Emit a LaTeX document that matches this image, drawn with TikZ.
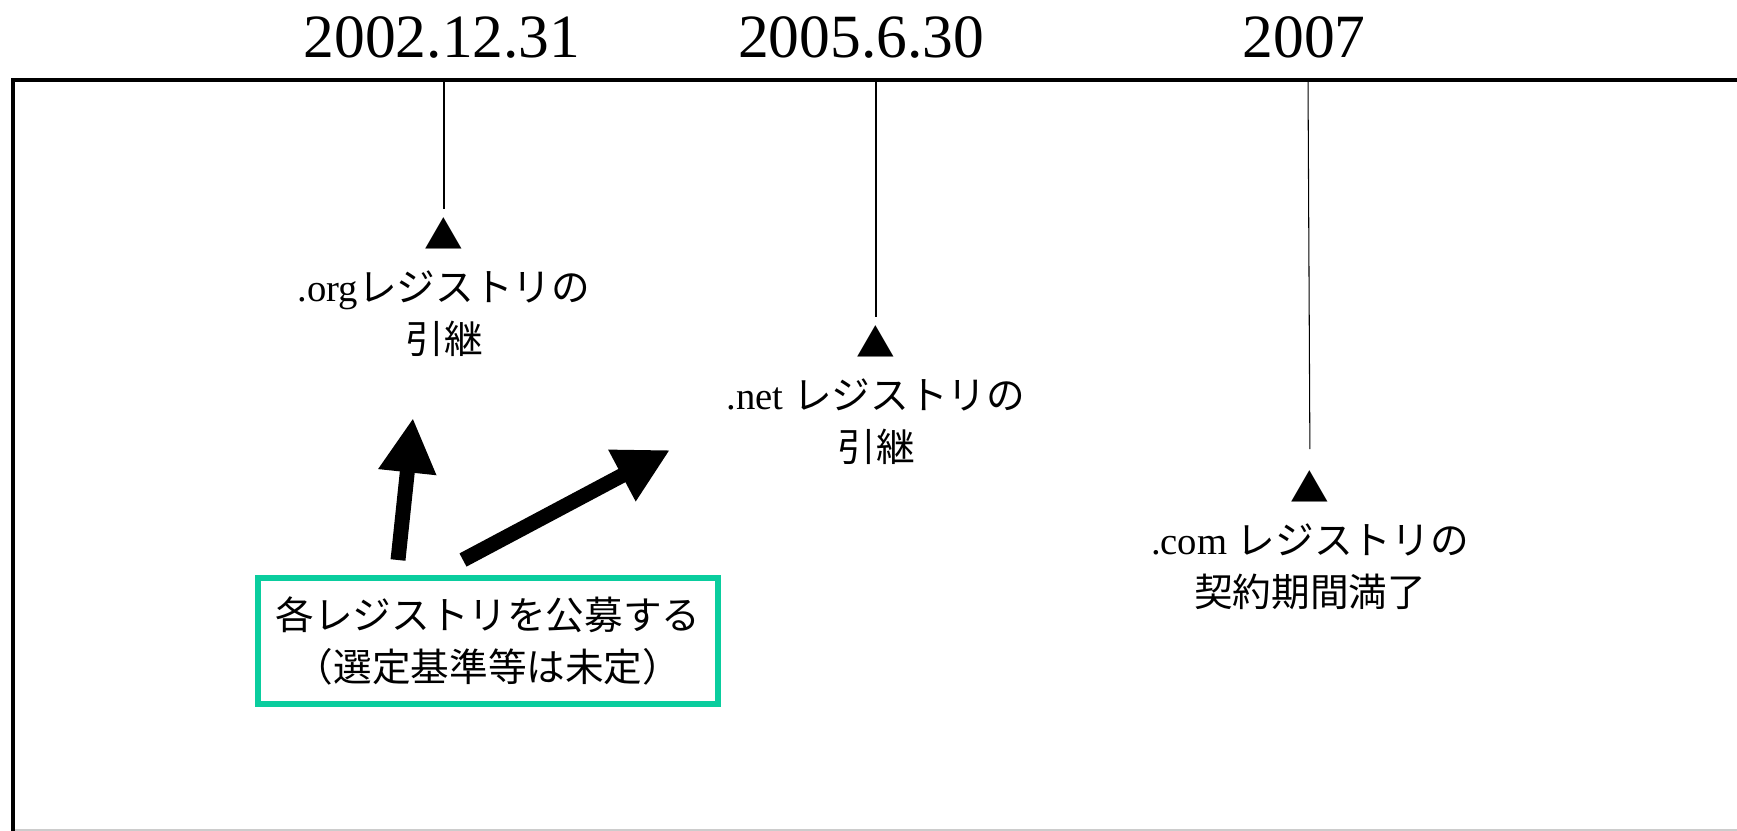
\documentclass[tikz,border=0pt]{standalone}
\usepackage{fontspec}
\setmainfont{Liberation Serif}
\newfontfamily\jp{Noto Sans CJK JP}
\usetikzlibrary{arrows.meta}
\definecolor{boxgreen}{RGB}{10,205,158}

\begin{document}
\begin{tikzpicture}[x=0.02cm,y=-0.02cm,
  frame/.style={line width=2.8pt},
  tick/.style={line width=0.6pt,shorten >=0.16cm},
  date/.style={anchor=base,font=\fontsize{35}{42}\selectfont},
  event/.style={align=center,inner sep=0pt,font=\fontsize{22}{29.6}\selectfont},
  fat/.style={line width=8.5pt,-{Triangle[length=31pt,width=31pt]}}]
\useasboundingbox (0,0) rectangle (1737,831);
\draw[frame] (1737,80) -- (13,80) -- (13,831);
\draw[gray!40,line width=0.6pt] (15,830) -- (1737,830);
\node[date] (d1) at (442,58) {2002.12.31};
\node[date] (d2) at (861,58) {2005.6.30};
\node[date] (d3) at (1304,58) {2007};
\coordinate (tk1) at (444,80);
\coordinate (tk2) at (876,80);
\coordinate (tk3) at (1308,80);
\node[event] (org) at (444,287) {{\jp ▲}\\.org{\jp レジストリの}\\{\jp 引継}};
\node[event] (net) at (876,395) {{\jp ▲}\\.net {\jp レジストリの}\\{\jp 引継}};
\node[event] (com) at (1310,540) {{\jp ▲}\\.com {\jp レジストリの}\\{\jp 契約期間満了}};
\draw[tick] (tk1) -- (org.north);
\draw[tick] (tk2) -- (net.north);
\draw[tick,shorten >=0.42cm] (tk3) -- (com.north);
\node[draw=boxgreen,line width=3.4pt,minimum width=9.22cm,minimum height=2.52cm,align=center,font=\jp\fontsize{22}{30}\selectfont] (call) at (488,641) {各レジストリを公募する\\（選定基準等は未定）};
\coordinate (a1s) at (398,560);
\coordinate (a1e) at (413,418);
\coordinate (a2s) at (463,560);
\coordinate (a2e) at (670,450);
\draw[fat] (a1s) -- (a1e);
\draw[fat] (a2s) -- (a2e);
\end{tikzpicture}
\end{document}
